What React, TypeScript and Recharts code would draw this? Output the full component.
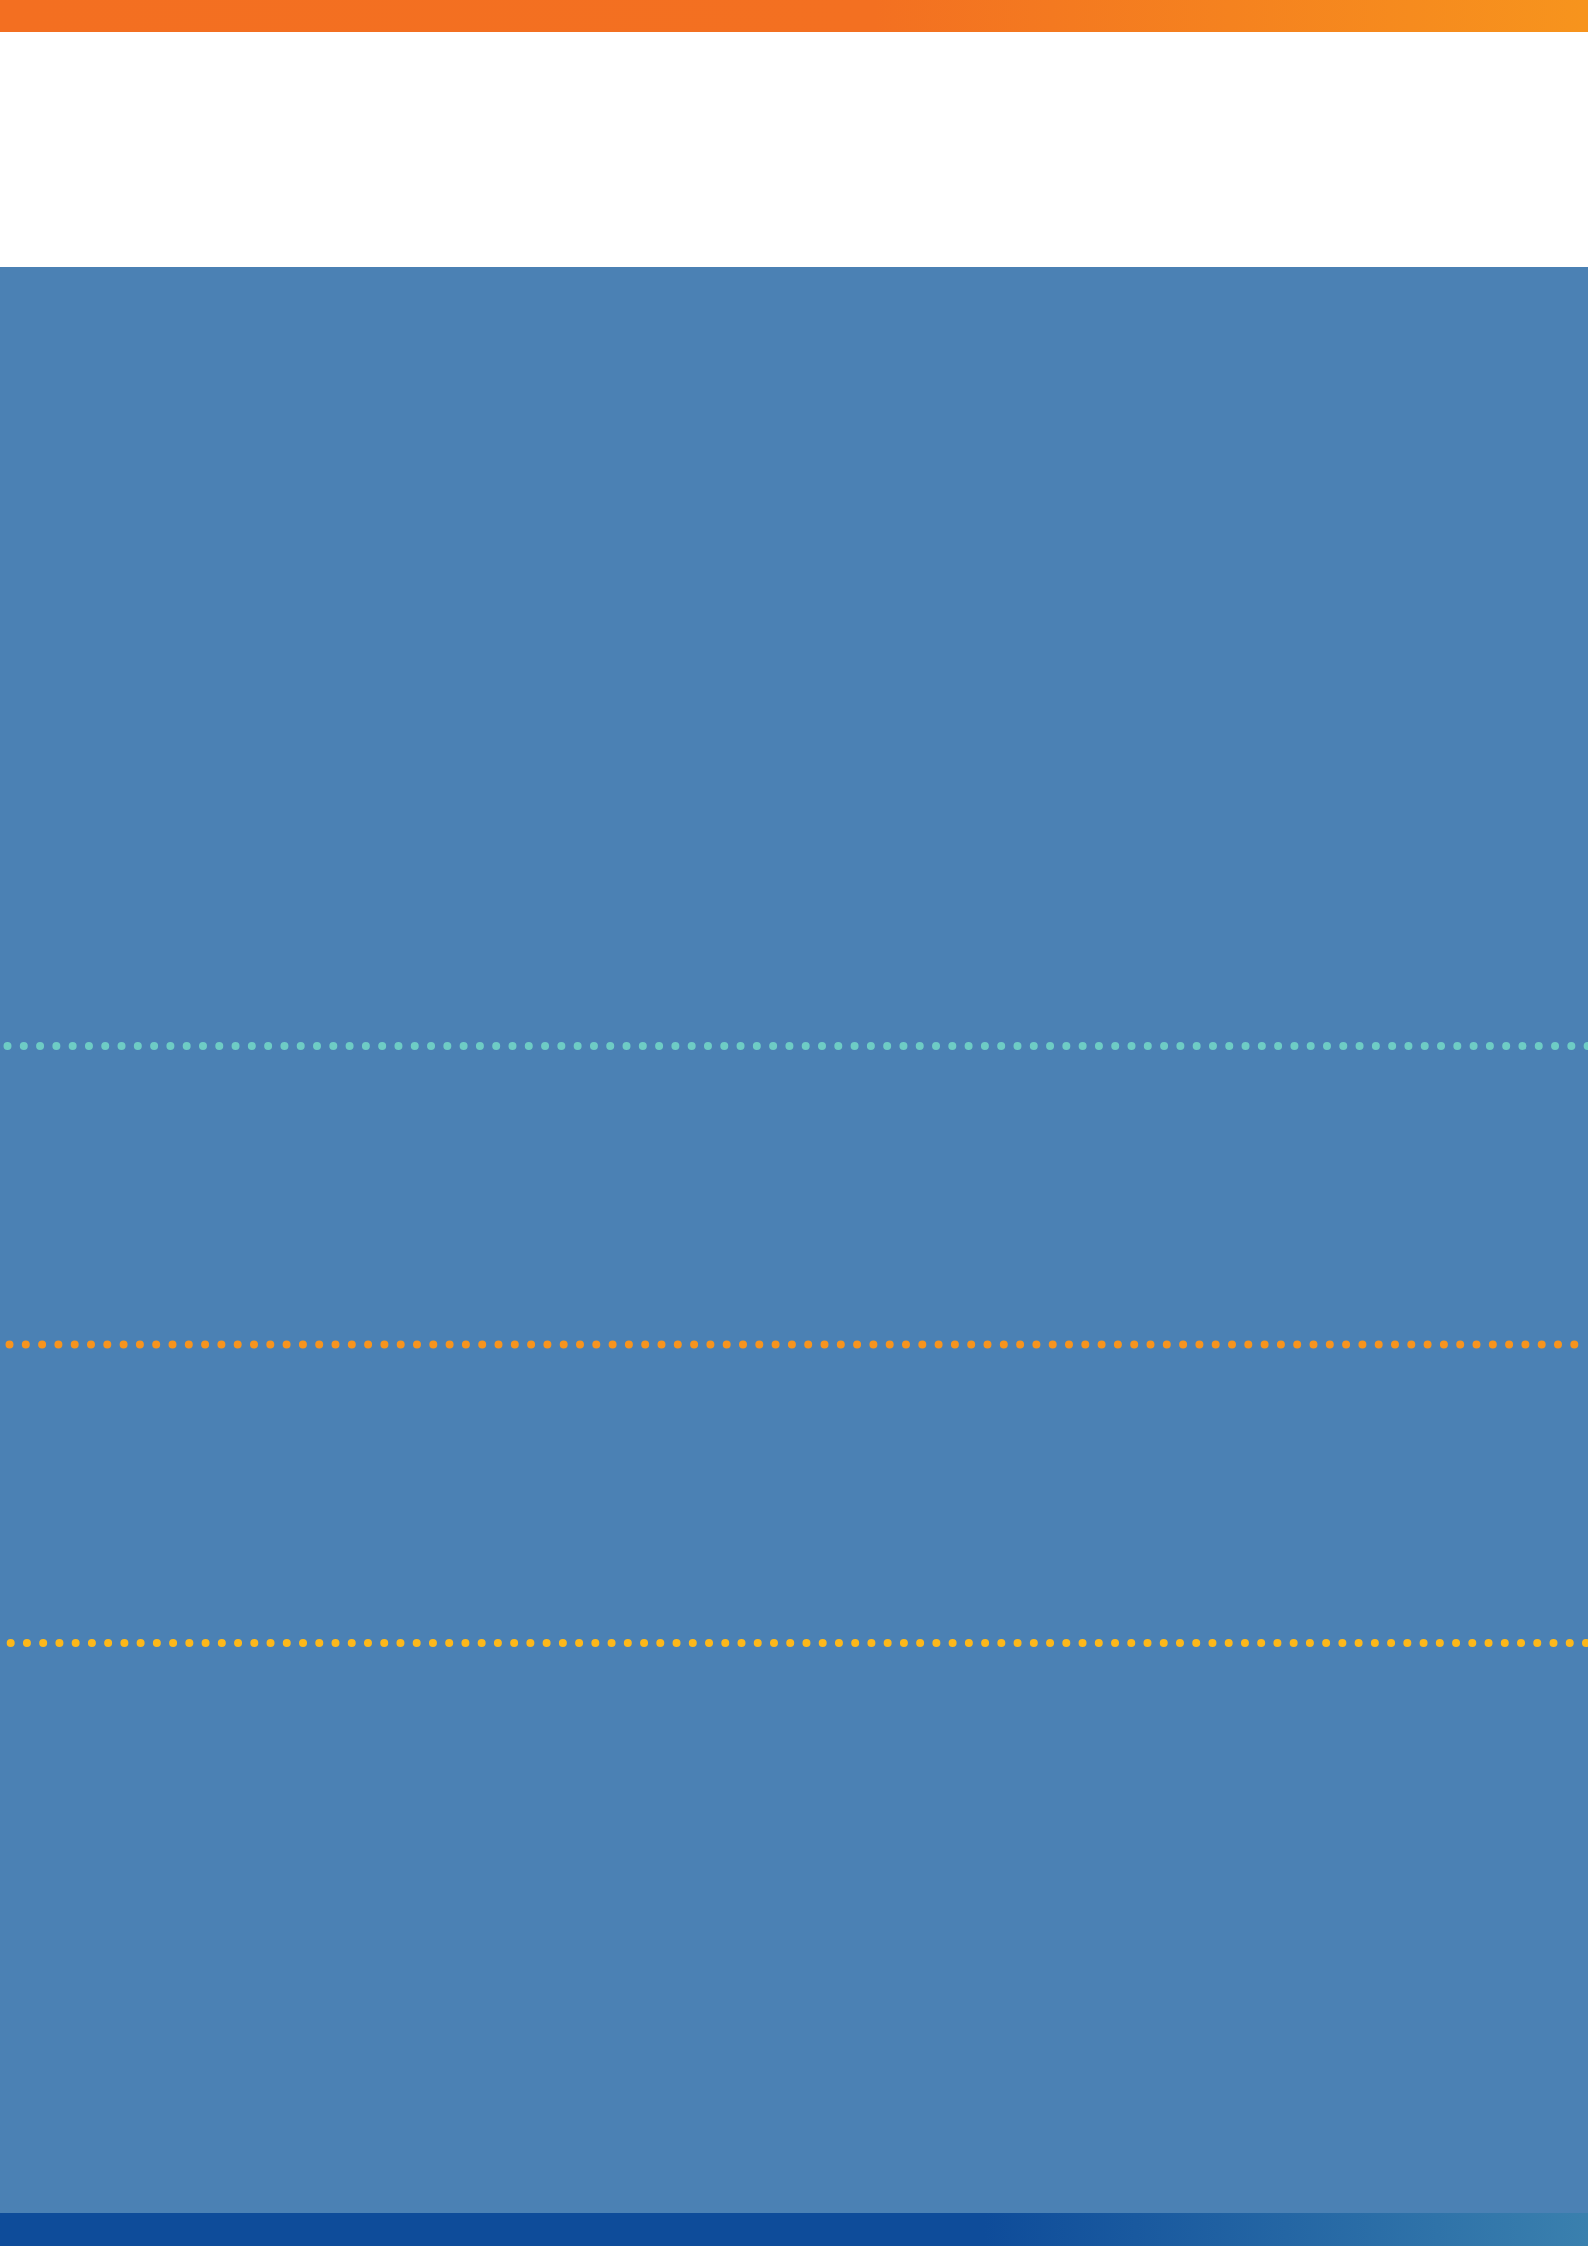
import { LineChart, Line, XAxis, YAxis } from 'recharts';

// three dotted rules across the blue panel, top to bottom
const lineKeys = ['teal', 'orange', 'yellow'];
const lineLevels = [3, 2, 1];
const spanPoints = ['start', 'end'];
const axisDomain = [0, 4];

const chartData = spanPoints.map((name) => {
  const row: Record<string, string | number> = { name };
  lineKeys.forEach((key, i) => {
    row[key] = lineLevels[i];
  });
  return row;
});

const lineStyles = [
  { color: '#6ECCC5', period: 16.29, offset: 8.79 },
  { color: '#F7941E', period: 16.3, offset: 6.8 },
  { color: '#FDB81A', period: 16.24, offset: 5.54 },
];

export default function App() {
  return (
    <div
      style={{
        position: 'absolute',
        left: 0,
        top: 0,
        width: 1588,
        height: 2246,
        overflow: 'hidden',
        background: '#ffffff',
      }}
    >
      {/* top orange band */}
      <div
        style={{
          position: 'absolute',
          left: 0,
          top: 0,
          width: 1588,
          height: 32,
          background: 'linear-gradient(to right, #F36F21 0%, #F37021 55%, #F7941D 100%)',
        }}
      />

      {/* blue panel with the chart */}
      <div
        style={{
          position: 'absolute',
          left: 0,
          top: 267,
          width: 1588,
          height: 1946,
          background: '#4B81B4',
        }}
      >
        <LineChart
          width={1588}
          height={1946}
          data={chartData}
          margin={{ top: 480.5, right: 0, bottom: 271.5, left: 0 }}
        >
          <XAxis dataKey="name" hide padding={{ left: 0, right: 0 }} />
          <YAxis type="number" domain={axisDomain} hide />
          {lineKeys.map((key, i) => (
            <Line
              key={key}
              type="linear"
              dataKey={key}
              stroke={lineStyles[i].color}
              strokeWidth={8}
              strokeLinecap="round"
              strokeDasharray={`0 ${lineStyles[i].period}`}
              strokeDashoffset={lineStyles[i].offset}
              dot={false}
              activeDot={false}
              isAnimationActive={false}
            />
          ))}
        </LineChart>
      </div>

      {/* bottom navy band */}
      <div
        style={{
          position: 'absolute',
          left: 0,
          top: 2213,
          width: 1588,
          height: 33,
          background: 'linear-gradient(to right, #0E4C9A 0%, #0E4C9A 62%, #3A80AE 100%)',
        }}
      />
    </div>
  );
}
